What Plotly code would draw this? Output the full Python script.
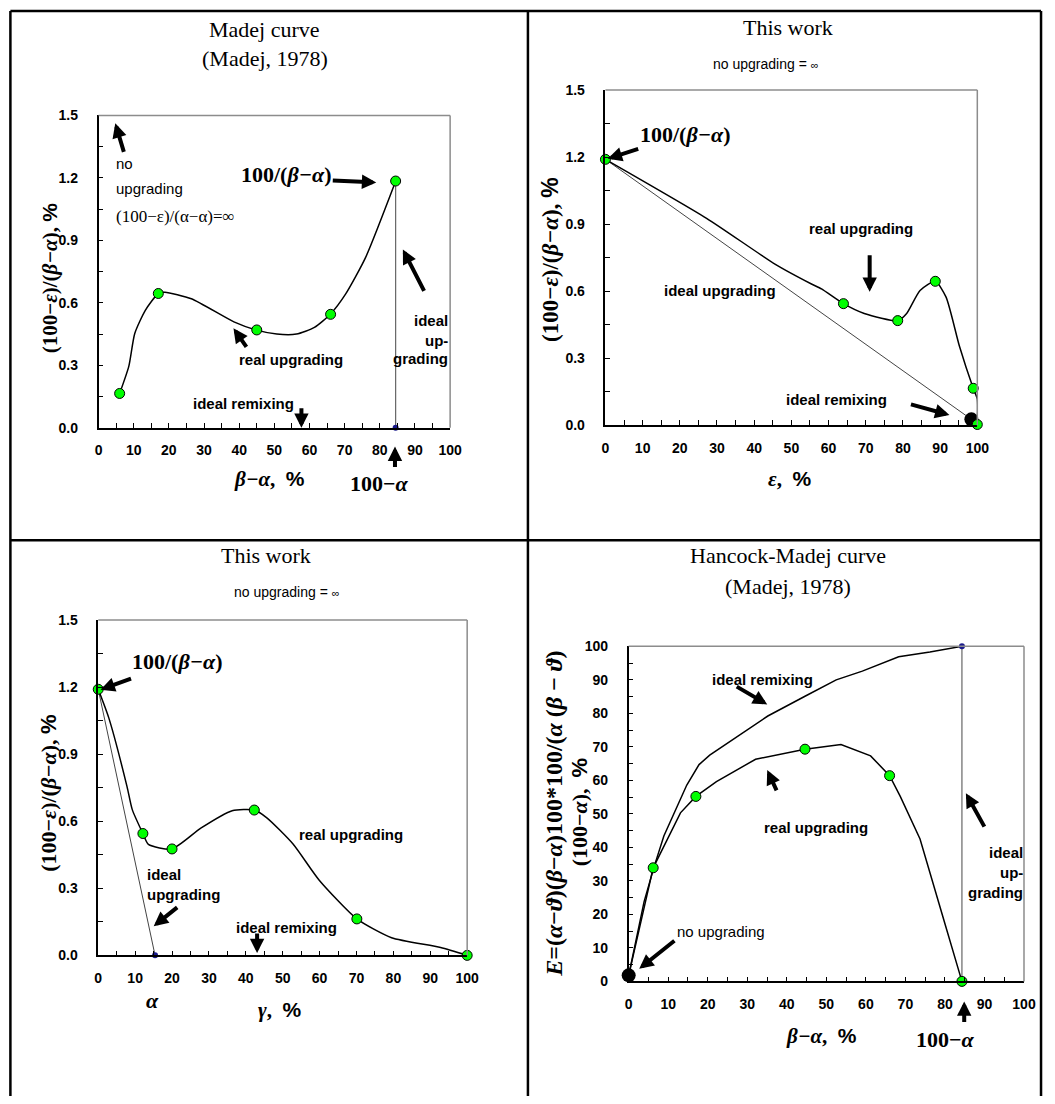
import plotly.graph_objects as go

# ---------------- data ----------------
# Panel 1: Madej curve
p1_curve_x = [6, 8.6, 10.3, 13.3, 17, 18.9, 26.4, 38.5, 45, 50.7, 56.3, 61.4, 66, 70.3, 75.9, 84.5]
p1_curve_y = [0.165, 0.295, 0.453, 0.564, 0.645, 0.651, 0.62, 0.509, 0.469, 0.45, 0.45, 0.482, 0.547, 0.643, 0.816, 1.184]
p1_pts_x = [6, 17, 45, 66, 84.5]
p1_pts_y = [0.165, 0.645, 0.47, 0.545, 1.185]
p1_ideal_x = [84.5, 84.5]
p1_ideal_y = [0.0, 1.185]

# Panel 2: this work, vs epsilon
p2_curve_x = [0, 27.2, 45.7, 55.4, 58.1, 64, 69.6, 78.6, 81, 84.6, 88.7, 91.6, 95.2, 98.9, 100, 100]
p2_curve_y = [1.19, 0.926, 0.72, 0.632, 0.61, 0.544, 0.5, 0.468, 0.5, 0.603, 0.644, 0.573, 0.353, 0.165, 0.117, 0.003]
p2_pts_x = [0, 64, 78.6, 88.7, 98.9, 100]
p2_pts_y = [1.19, 0.544, 0.468, 0.644, 0.165, 0.003]
p2_ideal_x = [0, 98.4]
p2_ideal_y = [1.19, 0.026]
p2_remix_x = [98.4]
p2_remix_y = [0.026]

# Panel 3: this work, vs gamma
p3_curve_x = [0, 2.9, 7.8, 9.2, 12.1, 13.6, 20, 27.9, 36.3, 42.3, 45.7, 52.8, 59.9, 70.1, 79.5, 92.8, 100]
p3_curve_y = [1.19, 1.06, 0.755, 0.653, 0.545, 0.496, 0.476, 0.57, 0.647, 0.65, 0.615, 0.498, 0.336, 0.163, 0.079, 0.035, 0.0]
p3_pts_x = [0, 12.1, 20, 42.3, 70.1, 100]
p3_pts_y = [1.19, 0.545, 0.476, 0.65, 0.163, 0.0]
p3_ideal_x = [0, 15.4]
p3_ideal_y = [1.19, 0.0]

# Panel 4: Hancock-Madej curve
p4_remix_x = [0, 3.9, 6.4, 8.9, 14.7, 17.8, 20.5, 24.7, 35.2, 44.6, 52.5, 59.1, 68.3, 76.2, 84.3]
p4_remix_y = [1.8, 23.8, 34.1, 43.4, 58.6, 64.7, 67.5, 70.9, 79.2, 85.1, 90.0, 92.6, 96.9, 98.3, 100]
p4_real_x = [0, 6.2, 13.1, 17, 22.2, 32.1, 44.6, 53.7, 61.2, 66, 68.7, 73.7, 80.3, 84.3]
p4_real_y = [1.8, 33.9, 50.3, 55.2, 59.6, 66.3, 69.3, 70.7, 67.3, 61.4, 55.2, 42.5, 16, 0]
p4_pts_x = [6.2, 17, 44.6, 66, 84.3]
p4_pts_y = [33.9, 55.2, 69.3, 61.4, 0]
p4_ideal_x = [84.3, 84.3]
p4_ideal_y = [0, 100]
p4_noup_x = [0]
p4_noup_y = [1.8]

# ---------------- layout helpers ----------------
W, H = 1055, 1104
SANS = "Arial, Liberation Sans, sans-serif"
SERIF = "Times New Roman, Liberation Serif, serif"

def px(x):
    return x / W

def py(y):
    return 1 - y / H

panels = {
    1: dict(x=(96, 453), y=(109, 426), yr=[0, 1.5], ydt=0.3, ymin=0.15, yfmt=".1f"),
    2: dict(x=(610.7, 988.3), y=(83.3, 423.3), yr=[0, 1.5], ydt=0.3, ymin=0.15, yfmt=".1f"),
    3: dict(x=(95.7, 470.3), y=(621, 961.3), yr=[0, 1.5], ydt=0.3, ymin=0.15, yfmt=".1f"),
    4: dict(x=(634.3, 1035.7), y=(647.7, 987.7), yr=[0, 100], ydt=10, ymin=5, yfmt="d"),
}

fig = go.Figure()
layout = dict(width=W, height=H, margin=dict(l=0, r=0, t=0, b=0), autosize=False,
              paper_bgcolor="white", plot_bgcolor="white", showlegend=False)
shapes = []
annotations = []

tickfont = dict(family=SANS, size=14, color="black", weight="bold")

for k, p in panels.items():
    xa = "xaxis" if k == 1 else f"xaxis{k}"
    ya = "yaxis" if k == 1 else f"yaxis{k}"
    xr = "x" if k == 1 else f"x{k}"
    yr = "y" if k == 1 else f"y{k}"
    layout[xa] = dict(domain=[px(p["x"][0]), px(p["x"][1])], anchor=yr, range=[0, 100],
                      showgrid=False, zeroline=False, showline=True, linecolor="black", linewidth=1.5,
                      ticks="inside", ticklen=5, tickwidth=1, tickcolor="black", dtick=10, tick0=0,
                      minor=dict(dtick=5, ticks="inside", ticklen=5, tickcolor="black", tickwidth=1),
                      tickfont=tickfont, ticklabelstandoff=9, fixedrange=True)
    layout[ya] = dict(domain=[py(p["y"][1]), py(p["y"][0])], anchor=xr, range=p["yr"],
                      showgrid=False, zeroline=False, showline=True, linecolor="black", linewidth=1.5,
                      ticks="inside", ticklen=5, tickwidth=1, tickcolor="black", dtick=p["ydt"], tick0=0,
                      minor=dict(dtick=p["ymin"], ticks="inside", ticklen=5, tickcolor="black", tickwidth=1),
                      tickformat=p["yfmt"], tickfont=tickfont, ticklabelstandoff=16, fixedrange=True)
    shapes.append(dict(type="line", xref=f"{xr} domain", yref=f"{yr} domain", x0=0, x1=1, y0=1, y1=1,
                       line=dict(color="#8c8c8c", width=1.5)))
    shapes.append(dict(type="line", xref=f"{xr} domain", yref=f"{yr} domain", x0=1, x1=1, y0=0, y1=1,
                       line=dict(color="#8c8c8c", width=1.5)))

GREEN = dict(color="#00ff00", size=10, line=dict(color="black", width=1))
BLUE = dict(color="#1a1a8c", size=6)
BLACK = dict(color="black", size=14)

def curve(x, y, xr, yr, smooth=True, width=1.5, color="black"):
    fig.add_trace(go.Scatter(x=x, y=y, xaxis=xr, yaxis=yr, mode="lines", cliponaxis=False,
                             line=dict(color=color, width=width, shape="spline" if smooth else "linear",
                                       smoothing=0.6 if smooth else None),
                             hoverinfo="skip"))

def pts(x, y, xr, yr, marker=GREEN):
    fig.add_trace(go.Scatter(x=x, y=y, xaxis=xr, yaxis=yr, mode="markers", cliponaxis=False,
                             marker=marker, hoverinfo="skip"))

# Panel 1
curve(p1_ideal_x, p1_ideal_y, "x", "y", smooth=False, width=1.2, color="#666666")
curve(p1_curve_x, p1_curve_y, "x", "y")
pts(p1_pts_x, p1_pts_y, "x", "y")
pts([p1_ideal_x[0]], [p1_ideal_y[0]], "x", "y", BLUE)

# Panel 2
curve(p2_ideal_x, p2_ideal_y, "x2", "y2", smooth=False, width=1, color="#444444")
curve(p2_curve_x, p2_curve_y, "x2", "y2")
pts(p2_remix_x, p2_remix_y, "x2", "y2", BLACK)
pts(p2_pts_x, p2_pts_y, "x2", "y2")

# Panel 3
curve(p3_ideal_x, p3_ideal_y, "x3", "y3", smooth=False, width=1, color="#444444")
curve(p3_curve_x, p3_curve_y, "x3", "y3")
pts(p3_pts_x, p3_pts_y, "x3", "y3")
pts([p3_ideal_x[1]], [p3_ideal_y[1]], "x3", "y3", BLUE)

# Panel 4
curve(p4_ideal_x, p4_ideal_y, "x4", "y4", smooth=False, width=1.2, color="#666666")
curve(p4_remix_x, p4_remix_y, "x4", "y4", smooth=False)
curve(p4_real_x, p4_real_y, "x4", "y4", smooth=False)
pts(p4_noup_x, p4_noup_y, "x4", "y4", BLACK)
pts(p4_pts_x, p4_pts_y, "x4", "y4")
pts([p4_ideal_x[1]], [p4_ideal_y[1]], "x4", "y4", BLUE)

# ---------------- annotations (page pixel positions) ----------------
def text(t, x, y, size=14, family=SANS, bold=True, xanchor="center", align="center", angle=0):
    annotations.append(dict(text=t, x=px(x), y=py(y), xref="paper", yref="paper", showarrow=False,
                            xanchor=xanchor, yanchor="middle", align=align, textangle=angle,
                            font=dict(family=family, size=size, color="black",
                                      weight="bold" if bold else "normal")))

def arrow(hx, hy, tx, ty):
    annotations.append(dict(text="", x=px(hx), y=py(hy), ax=tx - hx, ay=ty - hy, xref="paper", yref="paper",
                            showarrow=True, arrowhead=2, arrowsize=0.72, arrowwidth=4, arrowcolor="black",
                            standoff=0))

PCT = '<span style="font-family:Arial, Liberation Sans">%</span>'
YT = "(100\u2212<i>\u03b5</i>)/(<i>\u03b2\u2212\u03b1</i>), " + PCT
F100 = "100/(<i>\u03b2\u2212\u03b1</i>)"
M100 = "100\u2212<i>\u03b1</i>"
INF = "no upgrading = <span style='font-size:11px'>\u221e</span>"

# panel titles
text("Madej curve", 265, 22, size=22, family=SERIF, bold=False)
text("(Madej, 1978)", 265, 51, size=22, family=SERIF, bold=False)
text("This work", 796, 20, size=22, family=SERIF, bold=False)
text(INF, 774, 57, size=14, bold=False)
text("This work", 266, 556, size=22, family=SERIF, bold=False)
text(INF, 287, 593, size=14, bold=False)
text("Hancock-Madej curve", 796, 556, size=22, family=SERIF, bold=False)
text("(Madej, 1978)", 796, 587, size=22, family=SERIF, bold=False)

# panel 1
text(YT, 47, 274, size=21, family=SERIF, angle=-90)
text("<i>\u03b2\u2212\u03b1</i>,  " + PCT, 270, 478, size=21, family=SERIF)
text(M100, 381, 482, size=22, family=SERIF)
arrow(397, 445, 397, 467)
arrow(113, 117, 122, 147)
text("no", 112, 158, size=15, bold=False, xanchor="left")
text("upgrading", 112, 183, size=15, bold=False, xanchor="left")
text("(100\u2212\u03b5)/(\u03b1\u2212\u03b1)=\u221e", 112, 212, size=17, family=SERIF, bold=False, xanchor="left")
text(F100, 286.5, 169, size=22, family=SERIF)
arrow(378, 177, 333, 175)
arrow(405, 245, 427, 288)
text("ideal", 453, 317, size=15, xanchor="right")
text("up-", 453, 337, size=15, xanchor="right")
text("grading", 453, 356, size=15, xanchor="right")
text("real upgrading", 291.5, 357, size=15)
arrow(233, 325, 247, 345)
text("ideal remixing", 243.5, 401, size=15)
arrow(302, 426, 302, 405)

# panel 2
text(YT, 555, 255, size=23, family=SERIF, angle=-90)
text("<i>\u03b5</i>,  " + PCT, 798, 478, size=21, family=SERIF)
text(F100, 691.5, 128, size=22, family=SERIF)
arrow(613, 153, 645, 142.7)
text("real upgrading", 870, 224, size=15)
arrow(879, 288, 879, 250)
text("ideal upgrading", 727.5, 287, size=15)
text("ideal remixing", 845, 397, size=15)
arrow(960, 413, 920, 402)

# panel 3
text(YT, 45, 797, size=22, family=SERIF, angle=-90)
text("<i>\u03b3</i>,  " + PCT, 280, 1017, size=21, family=SERIF)
text("<i>\u03b1</i>", 151, 1007, size=22, family=SERIF)
text(F100, 176.5, 663, size=22, family=SERIF)
arrow(98, 691.7, 130, 680)
text("real upgrading", 352.5, 839, size=15)
text("ideal", 143, 879, size=15, xanchor="left")
text("upgrading", 143, 900, size=15, xanchor="left")
arrow(152, 931.7, 177, 911.7)
text("ideal remixing", 287, 933, size=15)
arrow(257, 959, 257, 938)

# panel 4
YT4a = ("<i>E</i>=(<i>\u03b1</i>\u2212<i>\u03d1</i>)(<i>\u03b2</i>\u2212<i>\u03b1</i>)100*100/"
        "(<i>\u03b1</i> (<i>\u03b2</i> \u2212 <i>\u03d1</i>)")
YT4b = "(100\u2212<i>\u03b1</i>),  " + PCT
text(YT4a, 559, 818, size=24, family=SERIF, angle=-90)
text(YT4b, 584, 816, size=22, family=SERIF, angle=-90)
text("<i>\u03b2\u2212\u03b1</i>,  " + PCT, 830, 1043, size=21, family=SERIF)
text(M100, 955.5, 1047, size=22, family=SERIF)
arrow(975, 1008, 975, 1030)
text("ideal remixing", 770, 681, size=15)
arrow(775, 706.7, 743, 688)
arrow(775, 773.3, 785, 795)
text("real upgrading", 825, 832, size=15)
text("ideal", 1037, 857, size=15, xanchor="right")
text("up-", 1037, 877, size=15, xanchor="right")
text("grading", 1037, 898, size=15, xanchor="right")
arrow(976.7, 796.7, 996, 831.7)
text("no upgrading", 728.5, 937, size=15, bold=False)
arrow(645, 975, 681.7, 945.7)

# outer frame
for (x0, y0, x1, y1) in [(6.5, 3, 1053, 3), (6.5, 3, 6.5, 1104), (1053, 3, 1053, 1104),
                         (532, 3, 532, 1104), (6.5, 540, 1053, 540)]:
    shapes.append(dict(type="line", xref="paper", yref="paper", x0=px(x0), x1=px(x1), y0=py(y0), y1=py(y1),
                       line=dict(color="black", width=2.5)))

layout["shapes"] = shapes
layout["annotations"] = annotations
fig.update_layout(**layout)
fig.write_html("out.html", config={"displayModeBar": False},
               post_script="document.body.style.margin='0';document.body.style.overflow='hidden';")
